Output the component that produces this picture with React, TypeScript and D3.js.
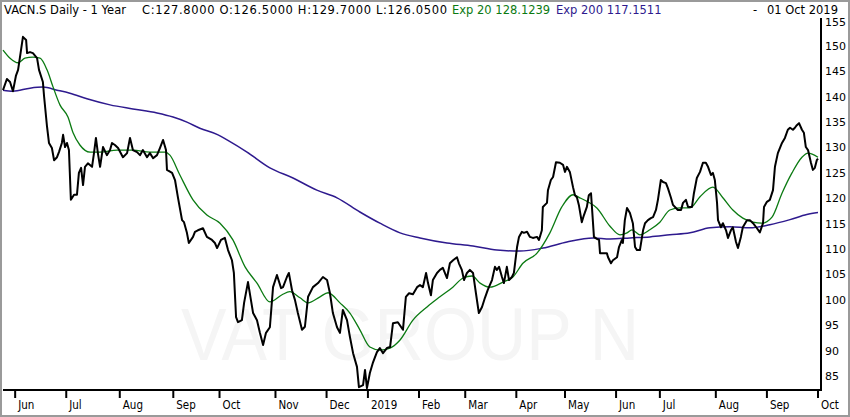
import * as d3 from "d3";

// Trading-day offset from the first bar, close price
const closeSeries: [number, number][] = [
  [0, 141.3], [1.6, 143.5], [2.9, 142.9], [4.1, 141.1], [5.3, 144.1], [6.2, 145.3],
  [7.4, 149.2], [8.2, 151.8], [9.5, 151.2], [9.9, 148.6], [11.1, 148.8], [12.3, 148.6],
  [14.0, 147.6], [14.8, 145.3], [16.4, 142.9], [16.9, 140.0], [18.1, 134.1], [18.9, 130.9],
  [20.1, 129.9], [21.0, 127.5], [22.2, 128.1], [23.0, 129.1], [24.2, 130.9], [24.7, 132.5],
  [25.5, 130.1], [26.3, 130.9], [27.1, 129.5], [27.9, 119.7], [29.2, 120.7], [30.4, 120.7],
  [31.2, 125.0], [32.1, 126.0], [32.9, 122.6], [33.7, 126.2], [34.9, 126.9], [36.6, 126.2],
  [37.4, 128.9], [38.2, 131.9], [39.0, 128.9], [39.9, 126.2], [41.1, 130.1], [42.7, 128.5],
  [44.0, 129.5], [44.8, 130.9], [46.0, 130.5], [47.3, 129.9], [49.3, 128.1], [51.0, 128.9],
  [52.2, 131.9], [53.4, 129.5], [55.1, 129.1], [56.3, 128.5], [57.5, 129.5], [59.2, 128.1],
  [60.4, 128.9], [61.7, 127.9], [63.3, 128.5], [64.5, 129.9], [65.8, 131.5], [67.0, 129.5],
  [67.4, 125.6], [69.5, 125.0], [70.7, 123.6], [71.9, 120.2], [73.6, 115.7], [74.4, 115.3],
  [75.6, 113.2], [76.4, 111.2], [78.1, 112.4], [78.9, 113.4], [80.1, 113.7], [82.2, 114.1],
  [83.8, 112.4], [85.9, 111.8], [87.1, 111.2], [88.0, 110.2], [89.6, 111.8], [91.2, 112.2],
  [92.5, 109.8], [94.1, 107.8], [94.9, 105.3], [95.8, 96.6], [96.6, 95.6], [98.2, 96.0],
  [99.1, 99.4], [100.7, 103.5], [101.9, 100.0], [102.8, 97.4], [104.4, 96.0], [105.6, 93.5],
  [106.9, 91.1], [108.1, 93.5], [109.7, 94.6], [111.0, 102.5], [112.6, 104.9], [114.3, 102.3],
  [115.1, 102.5], [116.7, 104.5], [117.5, 105.3], [118.8, 101.9], [120.0, 100.0], [121.2, 97.4],
  [122.9, 94.1], [124.1, 94.7], [125.4, 100.6], [127.4, 102.5], [129.5, 103.3], [131.5, 104.5],
  [133.2, 103.9], [134.4, 101.3], [135.6, 97.4], [137.3, 94.6], [138.5, 93.5], [139.7, 98.0],
  [141.4, 96.0], [142.6, 92.7], [143.9, 89.5], [145.5, 86.8], [146.3, 82.8], [148.0, 83.2],
  [148.8, 86.2], [149.6, 82.6], [150.8, 85.6], [152.1, 87.7], [153.7, 89.7], [154.9, 90.5],
  [156.2, 89.5], [157.8, 90.5], [159.1, 90.7], [160.3, 95.4], [162.3, 95.6], [164.4, 94.1],
  [165.6, 100.6], [166.9, 101.3], [168.5, 101.1], [170.2, 102.5], [171.4, 102.9], [172.6, 102.5],
  [173.9, 105.3], [174.7, 103.3], [175.9, 100.9], [176.7, 103.9], [178.4, 105.3], [179.6, 105.9],
  [180.8, 106.3], [182.5, 104.3], [183.7, 107.2], [185.0, 107.8], [186.6, 108.4], [187.4, 107.2],
  [188.6, 105.9], [189.5, 103.9], [190.7, 105.3], [191.9, 105.9], [193.2, 105.3], [194.4, 101.3],
  [195.6, 97.4], [196.9, 98.6], [198.1, 100.4], [199.3, 102.0], [201.0, 103.9], [202.2, 106.5],
  [203.0, 105.9], [203.9, 106.5], [205.1, 104.5], [205.9, 103.3], [207.1, 106.5], [208.0, 103.9],
  [209.2, 104.5], [210.0, 105.3], [211.3, 110.4], [212.1, 112.4], [213.3, 113.4], [214.1, 113.2],
  [215.4, 113.4], [216.6, 112.4], [217.8, 112.2], [219.5, 112.4], [220.3, 111.8], [221.5, 113.7],
  [221.9, 118.3], [223.6, 119.1], [224.0, 121.6], [225.2, 123.6], [226.1, 124.2], [227.3, 127.1],
  [228.9, 127.0], [230.2, 126.6], [231.0, 125.2], [231.8, 126.2], [233.0, 125.2], [234.3, 122.2],
  [235.1, 120.6], [235.9, 120.2], [236.7, 118.7], [237.9, 115.3], [238.8, 116.7], [240.0, 118.3],
  [240.8, 120.6], [241.7, 121.0], [242.9, 112.4], [244.1, 112.0], [245.0, 111.8], [245.4, 109.2],
  [246.6, 109.2], [248.2, 109.2], [248.7, 108.4], [249.9, 107.2], [250.7, 107.8], [252.4, 108.4],
  [253.2, 110.4], [254.4, 111.8], [254.8, 111.2], [255.6, 115.7], [256.5, 118.1], [257.7, 117.1],
  [258.9, 115.1], [259.8, 110.4], [260.6, 109.8], [261.8, 109.8], [263.1, 113.7], [263.9, 115.1],
  [265.1, 115.7], [266.3, 116.1], [267.2, 116.3], [268.4, 117.7], [269.2, 119.7], [270.4, 123.6],
  [271.3, 123.2], [272.5, 123.0], [273.3, 122.0], [274.5, 120.2], [275.4, 118.7], [276.6, 118.1],
  [277.4, 117.7], [278.7, 117.7], [279.5, 119.1], [280.7, 119.7], [281.6, 118.3], [283.2, 118.3],
  [284.0, 121.0], [285.2, 124.0], [286.5, 125.2], [287.7, 127.0], [288.9, 127.0], [289.8, 126.2],
  [291.0, 124.6], [291.8, 125.0], [292.6, 123.6], [293.5, 119.1], [293.9, 115.7], [295.1, 114.3],
  [295.9, 115.1], [297.2, 113.7], [298.0, 112.2], [299.2, 113.7], [300.0, 114.3], [301.3, 111.4],
  [302.1, 110.2], [303.3, 112.4], [304.1, 114.3], [305.8, 115.7], [307.0, 115.7], [308.3, 115.1],
  [309.9, 114.1], [311.1, 113.3], [312.4, 115.1], [312.8, 118.3], [314.0, 119.3], [315.2, 119.7],
  [316.5, 121.6], [317.3, 126.2], [318.5, 128.9], [320.2, 130.9], [321.4, 131.9], [322.6, 133.5],
  [323.5, 133.9], [324.7, 133.5], [325.5, 133.9], [326.3, 134.4], [327.2, 134.8], [328.4, 133.5],
  [329.2, 132.9], [330.0, 130.1], [330.9, 129.5], [332.1, 127.0], [332.9, 125.6], [333.7, 126.0],
  [334.5, 127.5], [335.0, 127.8],
];

const ema20Series: [number, number][] = [
  [0, 149.2], [2.9, 147.6], [6.2, 146.7], [9.0, 147.6], [12.3, 147.8], [15.2, 147.6],
  [18.1, 145.3], [20.6, 141.9], [23.4, 138.4], [26.7, 136.0], [28.8, 132.9], [31.6, 130.5],
  [35.8, 129.1], [39.9, 129.1], [46.9, 129.5], [53.4, 129.5], [60.4, 129.1], [66.6, 129.1],
  [68.6, 128.5], [72.7, 124.6], [78.1, 119.7], [83.8, 116.7], [89.2, 115.1], [94.5, 111.8],
  [99.5, 106.5], [104.4, 103.3], [109.7, 99.6], [114.7, 101.0], [117.9, 101.6], [122.1, 100.4],
  [125.4, 99.4], [130.3, 100.6], [133.6, 101.4], [138.5, 99.4], [142.6, 97.4], [146.7, 94.1],
  [150.8, 90.7], [154.9, 90.1], [159.1, 90.5], [163.2, 92.1], [168.5, 96.0], [174.3, 98.6],
  [179.6, 100.6], [184.9, 102.5], [189.1, 104.3], [192.8, 104.7], [196.1, 103.3], [200.2, 102.5],
  [205.5, 103.5], [209.6, 104.5], [213.7, 107.2], [219.5, 109.2], [224.8, 113.2], [229.7, 118.3],
  [234.3, 120.7], [237.1, 120.1], [240.4, 119.3], [244.1, 118.1], [249.5, 114.5], [253.6, 112.8],
  [256.5, 113.2], [258.5, 113.8], [261.8, 112.8], [265.9, 113.8], [270.0, 115.3], [274.1, 117.7],
  [278.3, 118.1], [282.4, 118.1], [286.5, 120.3], [291.8, 122.2], [295.9, 120.1], [300.0, 117.7],
  [304.1, 116.1], [308.3, 115.3], [311.9, 115.1], [316.1, 116.3], [320.2, 121.0], [324.3, 125.0],
  [328.4, 128.1], [330.9, 128.9], [335.0, 128.1],
];

const ema200Series: [number, number][] = [
  [0, 141.3], [4.1, 141.1], [11.1, 141.7], [16.4, 141.9], [22.2, 141.3], [27.5, 140.7],
  [34.5, 139.6], [44.0, 138.4], [53.4, 137.6], [63.3, 136.8], [69.9, 136.0], [75.6, 135.0],
  [80.9, 133.8], [88.4, 132.5], [92.1, 131.5], [100.3, 129.1], [109.7, 126.0], [119.2, 124.0],
  [129.0, 121.6], [137.3, 120.1], [146.7, 117.3], [154.9, 115.1], [163.2, 113.2], [171.4, 112.2],
  [182.5, 111.2], [193.2, 110.6], [203.0, 109.8], [212.5, 109.6], [221.9, 110.2], [231.8, 111.4],
  [242.5, 112.2], [249.5, 112.0], [257.7, 112.2], [265.9, 112.4], [274.1, 112.8], [282.4, 113.2],
  [290.6, 114.2], [298.8, 114.4], [307.0, 114.2], [315.2, 114.8], [323.5, 115.8], [330.4, 116.8],
  [335.0, 117.2],
];

const monthTickDays = [5, 26, 48, 70, 89, 112, 133, 150, 171, 190, 211, 231, 252, 270, 293, 314, 335];
const monthLabels = ["Jun", "Jul", "Aug", "Sep", "Oct", "Nov", "Dec", "2019", "Feb", "Mar", "Apr", "May", "Jun", "Jul", "Aug", "Sep", "Oct"];
const priceTicks = [155, 150, 145, 140, 135, 130, 125, 120, 115, 110, 105, 100, 95, 90, 85];

const W = 850;
const H = 417;
const PLOT = { left: 3, right: 821, top: 18, bottom: 390 };
const GREEN = "#0b7a12";
const PURPLE = "#2e1a8e";
const FONT = "'DejaVu Sans', sans-serif";

export default function App() {
  const x = d3.scaleLinear().domain([0, 335]).range([PLOT.left, 818]);
  const y = d3.scaleLinear().domain([85, 150]).range([376, 46]);

  const straight = d3
    .line<[number, number]>()
    .x((d) => x(d[0]))
    .y((d) => y(d[1]));
  const smooth = d3
    .line<[number, number]>()
    .x((d) => x(d[0]))
    .y((d) => y(d[1]))
    .curve(d3.curveMonotoneX);

  const closePath = straight(closeSeries) ?? "";
  const ema20Path = smooth(ema20Series) ?? "";
  const ema200Path = smooth(ema200Series) ?? "";

  return (
    <svg
      width={W}
      height={H}
      viewBox={`0 0 ${W} ${H}`}
      style={{ position: "absolute", left: 0, top: 0, background: "#fff" }}
      fontFamily={FONT}
    >
      <rect x={0} y={0} width={W} height={H} fill="#fff" />

      {/* watermark */}
      <text
        x={181}
        y={360}
        fontSize={74}
        textLength={458}
        lengthAdjust="spacingAndGlyphs"
        fill="#f5f5f5"
        fontFamily="'Liberation Sans', sans-serif"
      >
        VAT GROUP N
      </text>

      {/* header */}
      <g fontSize={11.5} fill="#000">
        <text x={4} y={14}>VACN.S Daily -  1 Year</text>
        <text x={142} y={14} textLength={305} lengthAdjust="spacing">
          C:127.8000 O:126.5000 H:129.7000 L:126.0500
        </text>
        <text x={452} y={14} fill={GREEN}>Exp 20 128.1239</text>
        <text x={556} y={14} fill={PURPLE}>Exp 200 117.1511</text>
        <text x={753} y={14}>-</text>
        <text x={838} y={14} textAnchor="end">01 Oct 2019</text>
      </g>

      {/* series */}
      <path d={ema200Path} fill="none" stroke={PURPLE} strokeWidth={1.5} />
      <path d={ema20Path} fill="none" stroke={GREEN} strokeWidth={1.3} />
      <path d={closePath} fill="none" stroke="#000" strokeWidth={2} strokeLinejoin="round" />

      {/* axes */}
      <line x1={PLOT.left} x2={PLOT.right + 1} y1={PLOT.bottom} y2={PLOT.bottom} stroke="#000" strokeWidth={2} />
      <line x1={PLOT.right} x2={PLOT.right} y1={PLOT.top} y2={PLOT.bottom} stroke="#000" strokeWidth={2} />

      <g>
        {monthTickDays.map((d, i) => (
          <g key={i} transform={`translate(${x(d)},0)`}>
            <line y1={PLOT.bottom + 1} y2={PLOT.bottom + 8} stroke="#000" strokeWidth={2} />
            <text
              x={3}
              y={409}
              fontSize={11.5}
              fontFamily="'DejaVu Sans Condensed', 'DejaVu Sans', sans-serif"
              fill="#000"
            >
              {monthLabels[i]}
            </text>
          </g>
        ))}
      </g>

      <g fontSize={11} fill="#000">
        {priceTicks.map((v) => (
          <text key={v} x={825} y={y(v)} dy={v === 155 ? "0.45em" : "0.36em"}>
            {v}
          </text>
        ))}
      </g>

      {/* frame */}
      <rect x={1} y={1} width={W - 2} height={H - 2} fill="none" stroke="#9a9a9a" strokeWidth={2} />
    </svg>
  );
}
